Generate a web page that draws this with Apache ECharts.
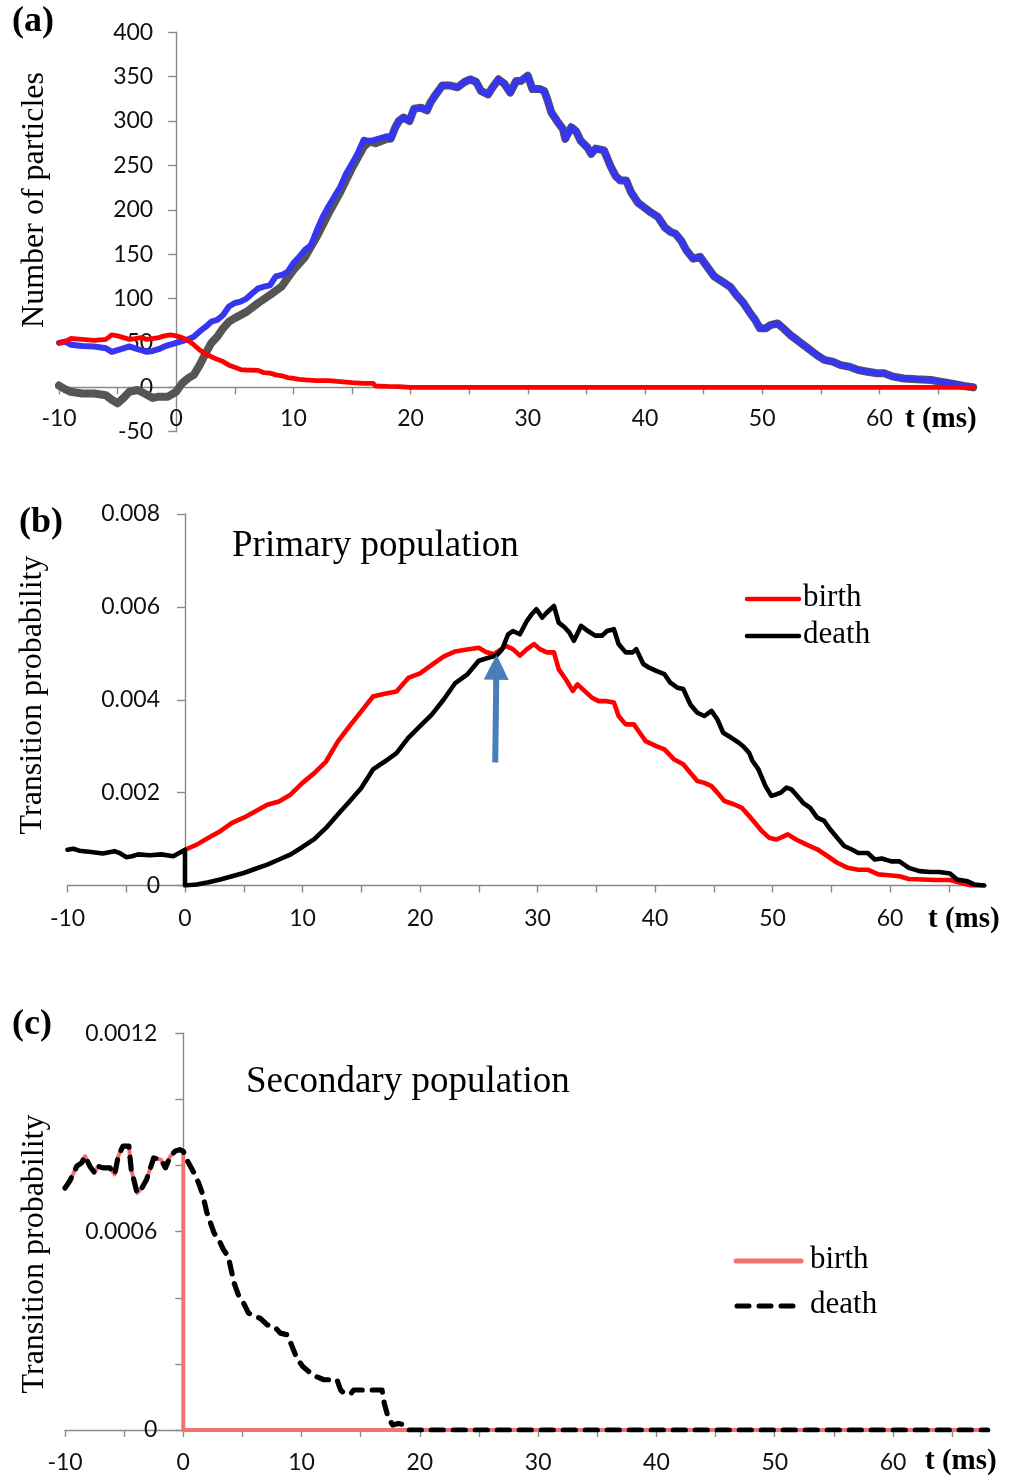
<!DOCTYPE html>
<html>
<head>
<meta charset="utf-8">
<script src="https://cdn.jsdelivr.net/npm/echarts@6/dist/echarts.min.js"></script>
<style>
  html, body { margin: 0; padding: 0; background: #ffffff; }
  #chart { width: 1016px; height: 1477px; }
</style>
</head>
<body>
<div id="chart"></div>
<script>
// ---- (a) number of particles vs time (ms) ----
const blueCurve = [
  [-10,50],[-9.5,51.5],[-9,48],[-8,46.5],[-7,46],[-6,44],[-5.5,40],[-5,42],[-4.5,44],[-4,46],
  [-3.5,44],[-3,42],[-2.5,40],[-2,41],[-1.5,43],[-1,46],[-0.5,48],[0,50],[1,54],[1.5,57],
  [2,63],[2.5,68],[3,74],[3.5,76],[4,81.5],[4.5,91],[5,95],[5.5,96.5],[6,100],[6.5,106],
  [7,111.5],[7.5,113.5],[8,115],[8.5,125],[9,126.5],[9.5,130],[10,140],[10.5,147],[11,155],
  [11.5,160],[12,177],[12.5,192],[13,204],[13.5,215],[14,226],[14.5,241],[15,252],[15.5,264],
  [16,279],[16.5,277],[17,279],[17.5,281],[18,283],[18.3,280],[18.7,293],[19,300],[19.4,304],
  [19.9,300],[20.3,314],[20.9,315],[21.4,312],[21.7,321],[22.1,329],[22.7,340],[23.4,340],
  [24,338],[24.6,344],[25.1,347],[25.6,344],[26,334],[26.6,330],[27.1,340],[27.5,347],[28,342],
  [28.5,332],[29,345],[29.4,345],[30,351],[30.4,336],[31,336],[31.4,334],[31.7,323],[32,310],
  [32.5,300],[33,291],[33.2,280],[33.7,293],[34.1,289],[34.5,278],[35.1,270],[35.4,263],
  [35.8,269],[36.5,267],[37.1,248],[37.5,238],[37.9,233],[38.4,233],[38.8,220],[39.4,208],
  [39.9,203],[40.5,197],[41.1,192],[41.7,180],[42.2,175],[42.6,173],[43.1,165],[43.5,155],
  [44.1,145],[44.7,147],[45.3,136],[45.9,125],[46.6,119],[47.3,113],[47.8,104],[48.4,95],
  [49,83],[49.4,76],[49.8,66.5],[50.3,66.5],[50.7,70],[51.3,72],[51.8,66.5],[52.4,59],[53,53],
  [53.5,48],[54.1,42],[54.7,36],[55.3,31],[56,29],[56.7,25],[57.5,23],[58.2,19.5],[59,17.6],
  [59.8,15.8],[60.4,15.8],[61.2,12],[62.1,10],[63.2,9],[64.4,8.3],[65.2,6.4],[66.1,4.5],
  [67.2,1.5],[68,0]
];
const grayCurveEarly = [
  [-10,2],[-9.5,-2],[-9,-5],[-8,-7],[-7,-7],[-6,-9],[-5.5,-14],[-5,-18],[-4.5,-12],[-4,-5],
  [-3.3,-3],[-2.7,-7],[-2,-12],[-1.5,-10.5],[-0.7,-10.5],[0,-5],[0.5,4.5],[1,10],[1.5,14],
  [2,25],[2.5,38],[3,50],[3.5,57],[4,66.5],[4.5,74],[5,78],[6,85],[7,95],[8,104],[9,113.5],
  [9.5,123],[10,132],[11,147],[12,170],[13,196],[14,220],[15,247],[16,271],[16.5,277],
  [17,275],[18,280]
];
const redCurve = [
  [-10,50],[-9.5,51.5],[-9,55],[-8,54],[-7,53],[-6,54],[-5.5,59],[-5,58],[-4.5,56],[-4,54],
  [-3.5,55],[-3,56],[-2.5,54],[-2,55],[-1.5,56],[-1,58],[-0.5,59],[0,58],[0.5,56],[1,53],
  [1.5,48],[2,42],[2.5,37.5],[3,34.5],[3.5,31.5],[4,29],[4.5,25],[5,22.5],[5.5,20],[6,19.5],
  [7,19],[7.5,16.5],[8,16],[8.5,14],[9,13],[9.5,11],[10,10],[10.5,9],[11,8.3],[12,7.5],
  [13,7.5],[14,6.4],[15,5.3],[16,4.5],[16.8,4.5],[17,1.5],[18,1],[19,0.8],[20,0],[68,0]
];

// ---- (b) primary population transition probabilities ----
const primaryBirth = [
  [0,0.00077],[1,0.00088],[2,0.00103],[3,0.00117],[4,0.00135],[5,0.00146],[6,0.0016],
  [7,0.00174],[8,0.00181],[9,0.00196],[10,0.00221],[11,0.00242],[12,0.00267],[13,0.0031],
  [14,0.00343],[15,0.00375],[16,0.00407],[17,0.00413],[18,0.00418],[19,0.00447],[20,0.00457],
  [21,0.00475],[22,0.00493],[23,0.00504],[24,0.00508],[25,0.00512],[25.6,0.00503],
  [26.3,0.00498],[26.7,0.00505],[27.3,0.00516],[27.9,0.00509],[28.5,0.00495],[29.1,0.00509],
  [29.7,0.0052],[30.2,0.00509],[30.8,0.00502],[31.4,0.00502],[31.8,0.00466],[32.4,0.00444],
  [33,0.00419],[33.4,0.00433],[34,0.00419],[34.6,0.00405],[35.2,0.00397],[35.9,0.00397],
  [36.5,0.00394],[36.9,0.00365],[37.5,0.00347],[38.2,0.00347],[38.7,0.00329],[39.2,0.00311],
  [40.1,0.003],[40.8,0.00293],[41.6,0.00272],[42.4,0.00261],[43,0.00243],[43.6,0.00225],
  [44.2,0.00221],[44.8,0.00214],[45.3,0.002],[45.9,0.00182],[46.7,0.00175],[47.4,0.00167],
  [48,0.0015],[48.5,0.00135],[49.1,0.00117],[49.7,0.00103],[50.3,0.00099],[50.7,0.00103],
  [51.3,0.0011],[52,0.00099],[52.9,0.00088],[53.8,0.00078],[54.7,0.00063],[55.5,0.00049],
  [56.4,0.00038],[57.3,0.00034],[58.1,0.00034],[59,0.00024],[59.9,0.00022],[60.8,0.0002],
  [61.6,0.00014],[62.8,0.00013],[63.9,0.00012],[65.1,0.00012],[66,0.00006],[66.9,0],[68,0]
];
const primaryDeath = [
  [-10,0.00077],[-9.5,0.00079],[-9,0.00075],[-8,0.00072],[-7,0.00069],[-6,0.00074],
  [-5.5,0.00069],[-5,0.00061],[-4.5,0.00063],[-4,0.00067],[-3,0.00065],[-2,0.00067],
  [-1,0.00063],[-0.5,0.0007],[0,0.00077],[0,0],[1,0.00002],[2,0.00007],[3,0.00013],
  [4,0.0002],[5,0.00027],[6,0.00036],[7,0.00045],[8,0.00056],[9,0.00067],[10,0.00083],
  [11,0.001],[12,0.00124],[13,0.00153],[14,0.00181],[15,0.0021],[16,0.0025],[17,0.00267],
  [18,0.00285],[19,0.00318],[20,0.00343],[21,0.00368],[22,0.004],[23,0.00436],[24,0.00454],
  [25,0.00484],[25.9,0.00491],[26.5,0.00495],[27,0.00509],[27.5,0.00541],[27.9,0.00548],
  [28.5,0.00541],[29.1,0.0057],[29.5,0.00584],[29.9,0.00595],[30.4,0.00577],[30.8,0.00588],
  [31.4,0.00602],[31.8,0.00566],[32.3,0.00556],[32.7,0.00545],[33.1,0.00527],[33.7,0.00559],
  [34.3,0.00548],[34.9,0.00538],[35.5,0.00538],[35.9,0.00548],[36.5,0.00552],[36.9,0.0052],
  [37.5,0.00502],[38.1,0.00502],[38.4,0.00509],[39,0.00477],[39.5,0.00469],[40.1,0.00462],
  [40.8,0.00455],[41.3,0.00437],[41.9,0.00426],[42.4,0.00423],[43,0.0039],[43.6,0.00372],
  [44.2,0.00365],[44.8,0.00376],[45.3,0.00358],[45.8,0.00329],[46.5,0.00318],[47.1,0.00308],
  [47.5,0.003],[48,0.00286],[48.3,0.00268],[48.8,0.0025],[49.4,0.00214],[49.9,0.00193],
  [50.3,0.00196],[50.7,0.002],[51.2,0.00211],[51.6,0.00207],[52,0.00196],[52.6,0.00178],
  [53.2,0.00167],[53.8,0.00146],[54.4,0.00139],[54.9,0.00121],[55.5,0.00103],[56.1,0.00085],
  [56.7,0.00078],[57.3,0.0007],[58.1,0.0007],[58.7,0.00056],[59.3,0.00058],[60.1,0.00052],
  [60.8,0.00052],[61.6,0.00038],[62.5,0.00031],[63.4,0.00029],[64.2,0.00029],[65.1,0.00026],
  [65.7,0.00013],[66.6,0.00009],[67.2,0.00002],[68,0]
];
// arrow marking the birth/death crossing: [t, p] of tail and head
const crossingArrow = [[26.4, 0.00265], [26.5, 0.0047]];

// ---- (c) secondary population transition probabilities ----
const secondaryBefore = [
  [-10,0.000732],[-9.6,0.000753],[-9,0.000798],[-8.6,0.000808],[-8.3,0.000828],[-7.9,0.000798],
  [-7.5,0.000778],[-7.2,0.000798],[-6.8,0.000793],[-6.2,0.000793],[-5.8,0.000773],
  [-5.5,0.000828],[-5.1,0.000859],[-4.6,0.000859],[-4.4,0.000788],[-3.9,0.000717],
  [-3.5,0.000732],[-3.1,0.000758],[-2.5,0.000823],[-1.9,0.000818],[-1.5,0.000793],
  [-1.1,0.000828],[-0.7,0.000843],[-0.3,0.000848],[0,0.000843]
];
const secondaryBirthAfter = [[0,0],[68,0]];
const secondaryDeathAfter = [
  [0.3,0.000818],[0.9,0.000778],[1.3,0.000747],[1.6,0.000717],[2,0.000657],[2.6,0.000596],
  [3,0.000576],[3.4,0.000545],[3.8,0.000525],[4.3,0.000444],[4.7,0.000404],[5.1,0.000384],
  [5.5,0.000354],[6.1,0.000343],[6.5,0.000338],[7.1,0.000318],[7.7,0.000313],[8.2,0.000293],
  [8.8,0.000288],[9.2,0.000253],[9.6,0.000217],[10.1,0.000192],[10.6,0.000177],[11.2,0.000162],
  [11.9,0.000152],[13,0.000152],[13.3,0.000121],[13.6,0.000111],[14.2,0.000111],[14.4,0.000121],
  [16.8,0.000121],[17,0.00008],[17.3,0.00004],[17.7,0.000015],[18.2,0.00002],[18.7,0.000015],
  [19.1,0],[68,0]
];

// ---- tick labels ----
const timeTickLabels = [-10, 0, 10, 20, 30, 40, 50, 60];
const countTickLabels = ['-50', '0', '50', '100', '150', '200', '250', '300', '350', '400'];
const primaryTickLabels = ['0', '0.002', '0.004', '0.006', '0.008'];
const secondaryTickLabels = ['0', '0.0006', '0.0012'];

// series assembled from the arrays above
const grayCurve = grayCurveEarly.concat(blueCurve.filter(p => p[0] > 18));
const secondaryBirth = secondaryBefore.concat(secondaryBirthAfter);
const secondaryDeath = secondaryBefore.concat(secondaryDeathAfter);

const AXIS_COLOR = '#8a8a8a';
const TICK_FONT = 'Lato';
const TICK_SIZE = 23;
const SERIF = '"Liberation Serif", "DejaVu Serif", serif';
const T_MIN = -10, T_MAX = 68.2;

// panel boxes (plot areas)
const boxes = [
  { left: 59, top: 32.3, width: 916.5, height: 399.4, yMin: -50, yMax: 400, yStep: 50 },
  { left: 67.5, top: 514, width: 918.9, height: 371.5, yMin: 0, yMax: 0.008, yStep: 0.002 },
  { left: 65, top: 1033.3, width: 925, height: 396.7, yMin: 0, yMax: 0.0012, yStep: 0.0002 }
];

function timeLabel(v) {
  const r = Math.round(v);
  return (Math.abs(v - r) < 1e-6 && timeTickLabels.includes(r)) ? String(r) : '';
}
function listLabel(list) {
  return v => {
    const s = String(+v.toFixed(6));
    return list.includes(s) ? s : '';
  };
}
// the time axis crosses the value axis at 0, and vice versa
function xAxisFor(i, margin) {
  const b = boxes[i];
  const lift = (0 - b.yMin) * b.height / (b.yMax - b.yMin);
  return {
    type: 'value', gridIndex: i, min: T_MIN, max: T_MAX, interval: 5,
    position: 'bottom', offset: -lift,
    axisLine: { show: true, onZero: false, lineStyle: { color: AXIS_COLOR, width: 1.4 } },
    axisTick: { show: true, length: 7, lineStyle: { color: AXIS_COLOR, width: 1.4 } },
    axisLabel: { formatter: timeLabel, margin, color: '#111111', fontFamily: TICK_FONT,
                 fontSize: TICK_SIZE, showMaxLabel: false },
    splitLine: { show: false }
  };
}
function yAxisFor(i, labels, margin) {
  const b = boxes[i];
  const shift = (0 - T_MIN) * b.width / (T_MAX - T_MIN);
  return {
    type: 'value', gridIndex: i, min: b.yMin, max: b.yMax, interval: b.yStep,
    position: 'left', offset: -shift,
    axisLine: { show: true, onZero: false, lineStyle: { color: AXIS_COLOR, width: 1.4 } },
    axisTick: { show: true, length: 8, lineStyle: { color: AXIS_COLOR, width: 1.4 } },
    axisLabel: { formatter: listLabel(labels), margin, color: '#111111', fontFamily: TICK_FONT,
                 fontSize: TICK_SIZE },
    splitLine: { show: false }
  };
}
function lineSeries(name, data, xi, color, width, extra) {
  return Object.assign({
    name, type: 'line', data, xAxisIndex: xi, yAxisIndex: xi,
    showSymbol: false, symbol: 'none', animation: false, silent: true,
    lineStyle: { color, width, join: 'round', cap: 'round' }
  }, extra || {});
}
function text(x, y, str, font, opts) {
  return Object.assign({
    type: 'text', x, y, silent: true,
    style: Object.assign({ text: str, font, fill: '#000', align: 'left', verticalAlign: 'middle' },
                         (opts && opts.style) || {})
  }, (opts && opts.el) || {});
}
function seg(x1, y1, x2, y2, stroke, lineWidth, dash) {
  return { type: 'line', silent: true,
           shape: { x1, y1, x2, y2 },
           style: { stroke, lineWidth, lineCap: 'round', lineDash: dash || null } };
}
function vtext(x, y, str) {
  return text(x, y, str, '32px ' + SERIF,
              { el: { rotation: Math.PI / 2 }, style: { align: 'center' } });
}

const chart = echarts.init(document.getElementById('chart'), null, { renderer: 'canvas' });
chart.setOption({
  backgroundColor: '#ffffff',
  animation: false,
  grid: boxes.map(b => ({ left: b.left, top: b.top, width: b.width, height: b.height,
                          containLabel: false, outerBoundsMode: 'none' })),
  xAxis: [xAxisFor(0, 20), xAxisFor(1, 22), xAxisFor(2, 21)],
  yAxis: [
    yAxisFor(0, countTickLabels, 23),
    yAxisFor(1, primaryTickLabels, 25),
    yAxisFor(2, secondaryTickLabels, 26)
  ],
  series: [
    lineSeries('gray', grayCurve, 0, '#555555', 8),
    lineSeries('blue', blueCurve, 0, '#3535f2', 6),
    lineSeries('red', redCurve, 0, '#ff0000', 4.8),

    lineSeries('birth', primaryBirth, 1, '#ff0000', 4.6),
    lineSeries('death', primaryDeath, 1, '#000000', 4.6, {
      markLine: {
        silent: true, animation: false,
        symbol: ['none', 'triangle'], symbolSize: [25, 25],
        lineStyle: { color: '#4a7ebb', width: 6, type: 'solid', cap: 'butt' },
        label: { show: false },
        emphasis: { disabled: true },
        data: [[{ coord: crossingArrow[0] }, { coord: crossingArrow[1] }]]
      }
    }),

    lineSeries('birth', secondaryBirth, 2, '#f47272', 4),
    lineSeries('death', secondaryDeath, 2, '#000000', 5.2, {
      lineStyle: { color: '#000000', width: 5.2, type: [12, 10], cap: 'round', join: 'round' }
    })
  ],
  graphic: [
    // panel letters
    text(12, 22, '(a)', 'bold 36px ' + SERIF),
    text(19, 523, '(b)', 'bold 36px ' + SERIF),
    text(12, 1025, '(c)', 'bold 36px ' + SERIF),
    // axis names
    vtext(35, 200, 'Number of particles'),
    vtext(33, 695, 'Transition probability'),
    vtext(35, 1254, 'Transition probability'),
    text(905, 420, 't (ms)', 'bold 29px ' + SERIF),
    text(928, 920, 't (ms)', 'bold 29px ' + SERIF),
    text(925, 1462, 't (ms)', 'bold 29px ' + SERIF),
    // panel titles
    text(232, 546, 'Primary population', '37px ' + SERIF),
    text(246, 1082, 'Secondary population', '37px ' + SERIF),
    // legends
    seg(747, 599, 799, 599, '#ff0000', 4.5),
    text(803, 598, 'birth', '31px ' + SERIF),
    seg(747, 636, 799, 636, '#000000', 4.5),
    text(803, 635, 'death', '31px ' + SERIF),
    seg(736, 1261, 801, 1261, '#f47272', 5),
    text(810, 1260, 'birth', '31px ' + SERIF),
    seg(737, 1306, 795, 1306, '#000000', 5, [12, 10]),
    text(810, 1305, 'death', '31px ' + SERIF)
  ]
});
</script>
</body>
</html>
